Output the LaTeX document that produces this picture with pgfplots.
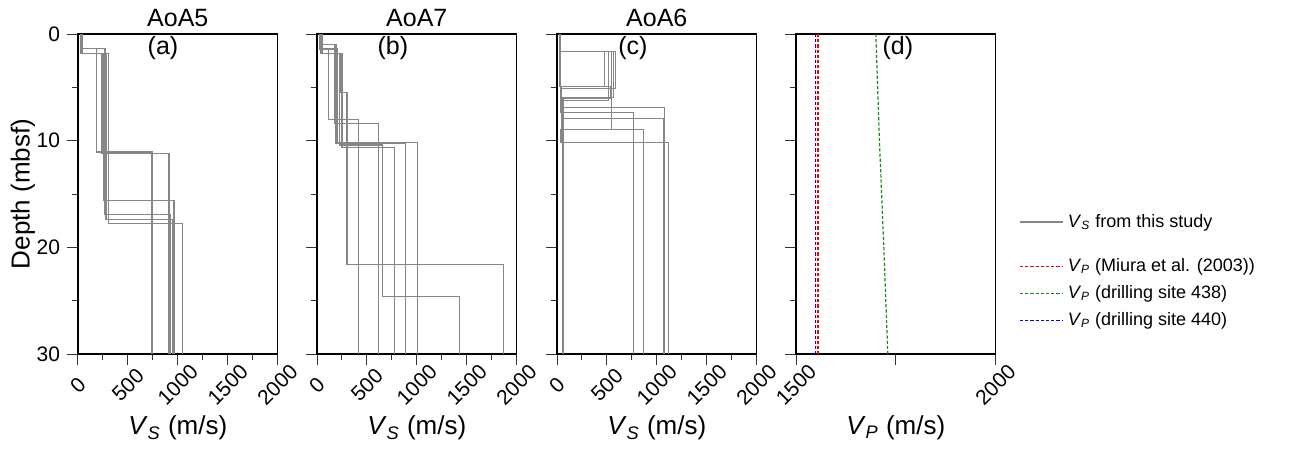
\documentclass[border=0pt]{standalone}
\usepackage{fontspec}
\setmainfont{Liberation Sans}
\usepackage{pgfplots}
\pgfplotsset{compat=1.18}

\newcommand{\VS}{\textit{V}\textsubscript{\textit{S}}}
\newcommand{\VP}{\textit{V}\textsubscript{\textit{P}}}
\definecolor{vpgreen}{RGB}{20,140,20}

\pgfplotsset{
  panel/.style={
    scale only axis, width=99.8pt, height=160pt,
    ymin=0, ymax=30, y dir=reverse,
    ytick={0,10,20,30}, minor ytick={5,15,25},
    tick align=outside, tick pos=left,
    major tick length=5.5pt, minor tick length=3pt,
    every tick/.style={black!80, line width=0.5pt},
    axis line style={line width=0.6pt},
    tick label style={font=\fontsize{10.5}{12}\selectfont},
    /pgf/number format/assume math mode=true,
    /pgf/number format/1000 sep={},
    every axis title/.style={font=\fontsize{12.5}{15}\selectfont,
      at={(axis description cs:0.5,1)}, anchor=base, yshift=3.7pt},
    every axis x label/.style={font=\fontsize{13}{15}\selectfont,
      at={(axis description cs:0.5,-0.231)}, anchor=center},
    every axis y label/.style={font=\fontsize{13}{15}\selectfont,
      at={(axis description cs:-0.2755,0.5)}, anchor=center, rotate=90},
    xticklabel style={rotate=45, anchor=center, xshift=-7pt, yshift=-7pt},
  },
  vs/.style={panel, xmin=0, xmax=2000, xtick={0,500,...,2000},
    minor xtick={250,750,1250,1750}, xlabel={\VS{} (m/s)}},
  prof/.style={color=gray!95, line width=0.6pt, forget plot},
  leg/.style={draw=none, fill=none, font=\fontsize{9}{11}\selectfont, row sep=1.5pt},
}
\tikzset{
  lbl/.style={font=\fontsize{12.5}{14}\selectfont},
  vp/.style={dash pattern=on 1.6pt off 1pt, line width=0.6pt},
}

\begin{document}
\begin{tikzpicture}
\useasboundingbox (0,0) rectangle (648.5pt,225.5pt);

% (a) AoA5
\begin{axis}[vs, at={(39pt,48.5pt)}, title={AoA5}, ylabel={Depth (mbsf)}]
\addplot[prof] coordinates {(40,0)(40,1.35)(184,1.35)(184,11.06)(741,11.06)(741,30)};
\addplot[prof] coordinates {(30,0)(30,1.8)(240,1.8)(240,11.2)(912,11.2)(912,30)};
\addplot[prof] coordinates {(40,0)(40,1.8)(257,1.8)(257,15.6)(962,15.6)(962,30)};
\addplot[prof] coordinates {(40,0)(40,1.35)(270,1.35)(270,16.9)(925,16.9)(925,30)};
\addplot[prof] coordinates {(35,0)(35,1.8)(281,1.8)(281,17.4)(945,17.4)(945,30)};
\addplot[prof] coordinates {(40,0)(40,1.8)(307,1.8)(307,17.8)(1049,17.8)(1049,30)};
\node[lbl] at (axis description cs:0.426,0.956) {(a)};
\end{axis}

% (b) AoA7
\begin{axis}[vs, at={(158.5pt,48.5pt)}, title={AoA7}, yticklabels={}]
\addplot[prof] coordinates {(30,0)(30,1.4)(117,1.4)(117,8.0)(417,8.0)(417,30)};
\addplot[prof] coordinates {(40,0)(40,1.0)(173,1.0)(173,8.4)(617,8.4)(617,30)};
\addplot[prof] coordinates {(35,0)(35,1.8)(233,1.8)(233,5.5)(300,5.5)(300,21.6)(1867,21.6)(1867,30)};
\addplot[prof] coordinates {(45,0)(45,1.4)(200,1.4)(200,10.2)(1010,10.2)(1010,30)};
\addplot[prof] coordinates {(25,0)(25,1.0)(190,1.0)(190,10.3)(883,10.3)(883,30)};
\addplot[prof] coordinates {(50,0)(50,1.8)(250,1.8)(250,10.65)(777,10.65)(777,30)};
\addplot[prof] coordinates {(40,0)(40,1.8)(225,1.8)(225,10.4)(660,10.4)(660,24.6)(1427,24.6)(1427,30)};
\node[lbl] at (axis description cs:0.38,0.956) {(b)};
\end{axis}

% (c) AoA6
\begin{axis}[vs, at={(278.5pt,48.5pt)}, title={AoA6}, yticklabels={},
  legend style={leg, at={(axis description cs:2.285,0.4125)}, anchor=west},
  legend cell align=left,
  legend image code/.code={\draw[#1] (0cm,0cm) -- (0.76cm,0cm);}]
\addplot[prof] coordinates {(27,0)(27,1.66)(473,1.66)(473,4.9)(40,4.9)(40,7.36)(767,7.36)(767,30)};
\addplot[prof] coordinates {(27,0)(27,1.66)(517,1.66)(517,6.26)(50,6.26)(50,8.93)(867,8.93)(867,30)};
\addplot[prof] coordinates {(27,0)(27,1.66)(567,1.66)(567,5.95)(63,5.95)(63,6.86)(1077,6.86)(1077,30)};
\addplot[prof] coordinates {(27,0)(27,1.66)(583,1.66)(583,5.1)(45,5.1)(45,7.95)(1067,7.95)(1067,30)};
\addplot[prof] coordinates {(27,0)(27,1.66)(550,1.66)(550,8.93)(40,8.93)(40,10.15)(1117,10.15)(1117,30)};
\addplot[prof] coordinates {(30,0)(30,4.9)(533,4.9)(533,6.0)(60,6.0)(60,30)};
\addlegendimage{color=gray!95, line width=0.6pt}
\addlegendentry{\VS{} from this study}
\node[lbl] at (axis description cs:0.38,0.956) {(c)};
\end{axis}

% (d) VP
\begin{axis}[panel, at={(398pt,48.5pt)}, yticklabels={},
  xmin=1500, xmax=2000, xtick={1500,1750,2000}, xticklabels={1500,,2000},
  xlabel={\VP{} (m/s)},
  legend style={leg, at={(axis description cs:1.087,0.19)}, anchor=west},
  legend cell align=left,
  legend image code/.code={\draw[#1] (0cm,0cm) -- (0.76cm,0cm);}]
\addplot[vp, color=red] coordinates {(1555,0)(1555,30)};
\addlegendentry{\VP{} (Miura et al. (2003))}
\addplot[vp, color=vpgreen] coordinates {(1700,0)(1709,10)(1720,20)(1730,30)};
\addlegendentry{\VP{} (drilling site 438)}
\addplot[vp, color=blue] coordinates {(1549,0)(1549,30)};
\addlegendentry{\VP{} (drilling site 440)}
\node[lbl] at (axis description cs:0.51,0.956) {(d)};
\end{axis}
\end{tikzpicture}
\end{document}
